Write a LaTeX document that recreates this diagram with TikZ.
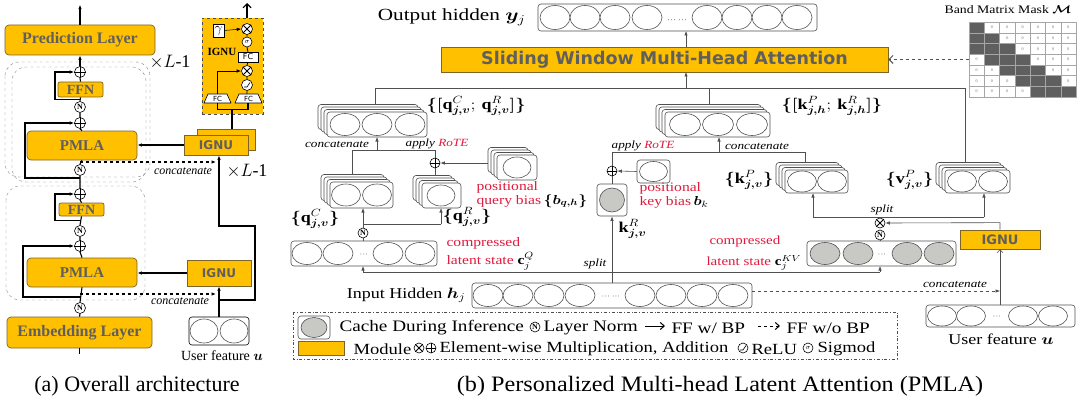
\RequirePackage{fix-cm}
\documentclass[tikz,border=0pt]{standalone}
\usepackage{amsmath,bm}
\usepackage{fontspec}
\setmainfont{Liberation Serif}
\newfontfamily\dvs{DejaVu Sans}
\usetikzlibrary{arrows.meta}
\definecolor{orng}{RGB}{255,192,0}
\definecolor{obord}{RGB}{125,100,40}
\definecolor{gtxt}{RGB}{95,95,95}
\definecolor{lnc}{RGB}{80,80,80}
\definecolor{redt}{RGB}{225,25,60}
\definecolor{cache}{RGB}{200,200,196}
\definecolor{mdark}{RGB}{95,95,95}
\newcommand\fs[1]{\fontsize{#1}{#1}\selectfont}
\newcommand\hs[2][1.2]{\scalebox{#1}[1]{#2}}
\newcommand\bx[7][]{\node[inner sep=0pt, minimum width={(#5)-(#3)}, minimum height={(#6)-(#4)}, #1] (#2) at ({((#3)+(#5))/2},{((#4)+(#6))/2}) {#7};}
\newcommand\ells[5]{\foreach \cx in {#5}{\draw[el, fill=#4] (\cx,#1) ellipse [x radius=#2, y radius=#3];}}
\newcommand\stk[4]{\foreach \k in {3,2,1}{\draw[cb] ({#1-3*\k},{#2-2.5*\k}) rectangle ({#3-3*\k},{#4-2.5*\k});}}
\newcommand\opl[4][10pt]{\node[sym=#1] (#2) at (#3,#4) {}; \draw[line width=0.9pt] (#2.north) -- (#2.south) (#2.west) -- (#2.east);}
\newcommand\otm[4][10pt]{\node[sym=#1] (#2) at (#3,#4) {}; \draw[line width=0.8pt] (#2.north east) -- (#2.south west) (#2.north west) -- (#2.south east);}
\newcommand\nrm[4][10pt]{\node[sym=#1, font=\bfseries\fs{8}] (#2) at (#3,#4) {N};}
\newcommand\sig[4][10pt]{\node[sym=#1, font=\fs{7}] (#2) at (#3,#4) {$\sigma$};}
\newcommand\relu[4][10pt]{\node[sym=#1] (#2) at (#3,#4) {}; \draw[line width=0.6pt] ([shift={(-3pt,-2pt)}]#2.center) -- ([shift={(0pt,-2pt)}]#2.center) -- ([shift={(3pt,2.5pt)}]#2.center);}
\newcommand\dts{$\cdot\!\cdot\!\cdot$}
\tikzset{
  lnL/.style={draw=black, line width=1.1pt},
  lnR/.style={draw=lnc, line width=0.6pt},
  arr/.style={-{Latex[length=4.5pt,width=3.5pt]}},
  ob/.style={draw=obord, fill=orng, line width=0.7pt},
  cb/.style={draw=lnc, fill=white, rounded corners=3pt, line width=0.6pt},
  el/.style={draw=lnc, line width=0.6pt},
  sym/.style={circle, draw=black, fill=white, inner sep=0pt, minimum size=#1, line width=0.6pt},
  sym/.default=10pt,
  lbox/.style={ob, rounded corners=4pt, font=\bfseries\fs{16}, text=gtxt},
  ig/.style={ob, font=\dvs\bfseries\fs{12}, text=gtxt},
  cat/.style={font=\itshape\fs{11}},
  red/.style={font=\fs{13}, text=redt, anchor=west},
  lg/.style={font=\fs{16}, anchor=west},
  lgb/.style={font=\fs{15.5}, anchor=west},
}
\begin{document}
\begin{tikzpicture}[x=1pt,y=-1pt]
\useasboundingbox (0,0) rectangle (1077,404);
% ================= (a) =================
\bx[lbox]{pred}{5}{25}{155}{55}{Prediction Layer}
\draw[dashed, draw=gray, rounded corners=14pt] (5,62) rectangle (150,177);
\draw[dashed, draw=gray, rounded corners=14pt] (12,67) rectangle (146,182);
\draw[dashed, draw=gray, rounded corners=14pt] (6,186) rectangle (145,300);
\opl[11pt]{p1}{80}{72}
\bx[ob, rounded corners=2pt, font=\bfseries\fs{14}, text=gtxt]{ffn1}{58}{82}{103}{97}{FFN}
\nrm[11pt]{n1}{80}{107}
\opl[11pt]{p2}{80}{123}
\bx[lbox, font=\bfseries\fs{15}]{pm1}{27}{131}{137}{160}{PMLA}
\nrm[11pt]{n2}{80}{170}
\opl[11pt]{p3}{80}{194}
\bx[ob, rounded corners=2pt, font=\bfseries\fs{14}, text=gtxt]{ffn2}{59}{203}{104}{216}{FFN}
\nrm[11pt]{n3}{80}{231}
\opl[11pt]{p4}{80}{246}
\bx[lbox, font=\bfseries\fs{15}]{pm2}{27}{258}{137}{287}{PMLA}
\nrm[11pt]{n4}{80}{308}
\bx[lbox]{emb}{7}{317}{152}{348}{Embedding Layer}
\draw[lnL] (emb.north) -- (n4.south) (n4.north) -- (pm2.south) (pm2.north) -- (p4.south)
  (p4.north) -- (n3.south) (n3.north) -- (ffn2.south) (ffn2.north) -- (p3.south)
  (p3.north) -- (n2.south) (n2.north) -- (pm1.south) (pm1.north) -- (p2.south)
  (p2.north) -- (n1.south) (n1.north) -- (ffn1.south) (ffn1.north) -- (p1.south);
\draw[lnL] (emb.south) -- ++(0,6);
\draw[lnL, arr] (p1.north) -- (pred.south);
\draw[lnL, arr] (pred.north) -- ++(0,-20);
\draw[lnL, arr] (80,297) -- (23,297) |- (p4.west);
\draw[lnL, arr] (80,220.5) -- (55,220.5) |- (p3.west);
\draw[lnL, arr] (80,178) -- (25,178) |- (p2.west);
\draw[lnL, arr] (80,99.5) -- (55,99.5) |- (p1.west);
\draw[lnL, dashed, arr] (80,162) -- (216,162);
\draw[lnL, dashed, arr] (80,294) -- (216,294);
\node[cat, font=\itshape\fs{12}] (cc1) at (183,171) {concatenate};
\node[cat, font=\itshape\fs{12}] (cc2) at (180,301) {concatenate};
\node[font=\fs{18}] (xl1) at (170,62) {$\times L$-1};
\node[font=\fs{18}] (xl2) at (247,171) {$\times L$-1};
\bx[ig]{ig1b}{197}{129}{255}{150}{}
\bx[ig]{ig1}{184}{135}{248}{155}{IGNU}
\bx[ig]{ig2}{187}{260}{251}{286}{IGNU}
\draw[lnL, arr] (ig1.west) -- (ig1.west -| pm1.east);
\draw[lnL, arr] (ig2.west) -- (ig2.west -| pm2.east);
\bx[draw=black, rounded corners=3pt, fill=white, line width=0.6pt]{uf}{189}{317}{249}{345}{}
\ells{331}{14}{12}{white}{204,234}
\node[font=\fs{14}] (ufl) at (222,356) {User feature $\bm{u}$};
\draw[lnL, arr] (uf.north) -- (ig2.south);
\coordinate (ua) at (219,300);
\draw[lnL, arr] (ua) -- ++(36,0) -- ++(0,-74) -- ++(-36,0) -- (ig1.south -| ua);
% IGNU inset
\bx[ob, dashed, draw=black!70]{igin}{202}{18}{263}{114}{}
\draw[lnL, -{Straight Barb[length=4pt,width=8pt]}] (247,18) -- (247,3);
\bx[draw=black, fill=white, font=\fs{14}]{gam}{213}{24}{224}{37}{$\gamma$}
\otm[11pt]{x1}{247}{29}
\sig{sg}{247}{42}
\bx[draw=black, fill=white, font=\dvs\fs{8}]{fc1}{238}{52}{258}{62}{FC}
\node[font=\bfseries\fs{11}] (ignl) at (222,52) {IGNU};
\otm[11pt]{x2}{247}{71}
\relu[11pt]{rl}{247}{85}
\draw[line width=0.6pt, fill=white] (204,103) -- (208,94) -- (227,94) -- (231,103) -- cycle;
\draw[line width=0.6pt, fill=white] (235,103) -- (239,94) -- (258,94) -- (262,103) -- cycle;
\node[font=\dvs\fs{7}] (fcl) at (217.5,99) {FC};
\node[font=\dvs\fs{7}] (fcr) at (248.5,99) {FC};
\coordinate (fclt) at (217.5,94); \coordinate (fclb) at (217.5,103);
\coordinate (fcrt) at (247,94); \coordinate (fcrb) at (248,103);
\draw[line width=0.8pt] (fcrt) -- (rl.south) (rl.north) -- (x2.south) (x2.north) -- (fc1.south) (fc1.north) -- (sg.south) (sg.north) -- (x1.south);
\draw[line width=0.8pt, arr] (fclt) |- (x2.west);
\draw[line width=0.5pt, arr] (gam.east) -- (x1.west);
\draw[lnL] (fclb) -- ++(0,6.5) -| (fcrb);
\coordinate (jn) at (232,109.5);
\draw[lnL] (jn) -- (jn |- ig1b.north);
% ================= (b) =================
\node[anchor=east, font=\fs{17}] (outl) at (529,17) {\hs[1.25]{Output hidden $\bm{y}_j$}};
\bx[cb]{outb}{538}{4}{817}{31}{}
\ells{17.5}{15}{12}{white}{555,585,615,647,707,737,767,797}
\node[font=\fs{9}] (od) at (677,20) {\dts\ \dts};
\bx[ob, font=\dvs\bfseries\fs{17.5}, text=gtxt]{swm}{441}{47}{888}{72}{Sliding Window Multi-Head Attention}
\draw[lnR, arr] (686,47) -- (686,31);
% band matrix
\node[font=\fs{11.5}] (bml) at (1008,10) {\hs{Band Matrix Mask $\bm{\mathcal{M}}$}};
\foreach \r in {0,...,6}{\foreach \c in {0,...,6}{
  \pgfmathtruncatemacro\dd{\r-\c}
  \def\fc{mdark}\def\tv{1}
  \ifnum\dd<0 \def\fc{white}\def\tv{0}\fi
  \ifnum\dd>2 \def\fc{white}\def\tv{0}\fi
  \node[draw=black!35, line width=0.3pt, fill=\fc, minimum width=15.3pt, minimum height=10.7pt, inner sep=0pt, font=\fs{4}, text=black!60] (m\r\c) at ({976.65+15.3*\c},{27.35+10.7*\r}) {\tv};
}}
\draw[lnR, line width=1pt, dashed, -{Straight Barb[length=4pt,width=8pt]}] (m30.west) -- (m30.west -| swm.east);
% bus
\draw[lnR] (375,88) -- (965,88);
\draw[lnR, arr] (686,88) -- (686,72);
% q stack
\stk{327}{112}{427}{137}
\bx[cb]{qst}{327}{112}{427}{137}{}
\ells{124.5}{15}{11}{white}{345,377,410}
\draw[lnR] (375,88) -- (375,104.5);
\node[anchor=west, font=\fs{15}] (qlbl) at (423,106) {\hs{$\bm{\{}\bm{[}\mathbf{q}^{C}_{\bm{j,v}};\,\mathbf{q}^{R}_{\bm{j,v}}\bm{]}\bm{\}}$}};
\draw[lnR] (352,150) -- (435,150);
\draw[lnR, arr] (377,150) -- (377,137);
\node[cat] (qcat) at (337,144) {\hs{concatenate}};
\node[cat] (qrot) at (437,144) {\hs{apply \textcolor{redt}{RoTE}}};
\opl{qp}{435}{163}
\draw[lnR] (qp.north) -- (435,150);
\stk{330}{182}{393}{208}
\bx[cb]{qcs}{330}{182}{393}{208}{}
\ells{195}{14.5}{11}{white}{346,377}
\draw[lnR] (352,150) -- (352,174.5);
\stk{422}{183}{461}{208}
\bx[cb]{qrs}{422}{183}{461}{208}{}
\ells{195.5}{14}{10.5}{white}{441}
\draw[lnR] (435,175.5) -- (qp.south);
\stk{497}{155}{537}{180}
\bx[cb]{qbs}{497}{155}{537}{180}{}
\ells{167.5}{14}{10.5}{white}{517}
\draw[lnR, arr] (488,163) -- (qp.east);
\node[red] (qb1) at (473,187) {\hs{positional}};
\node[red] (qb2) at (473,201) {\hs{query bias}};
\node[anchor=west, font=\fs{13}] (qb3) at (540,201) {\hs{$\bm{\{b_{q,h}\}}$}};
\nrm{nq}{363}{233}
\draw[lnR] (nq.north) -- (363,224) -- (441,224);
\draw[lnR, arr] (363,224) -- (363,208);
\draw[lnR, arr] (441,224) -- (441,208);
\node[font=\fs{15}] (qcl) at (315,219) {\hs{$\bm{\{}\mathbf{q}^{C}_{\bm{j,v}}\bm{\}}$}};
\node[font=\fs{15}] (qrl) at (467,217) {\hs{$\bm{\{}\mathbf{q}^{R}_{\bm{j,v}}\bm{\}}$}};
\bx[cb]{cq}{291}{241}{437}{266}{}
\ells{253.5}{15}{11}{white}{307,338,388,420}
\node[font=\fs{8}] (cqd) at (364,255) {\dts};
\draw[lnR] (nq.south) -- (nq.south |- cq.north);
\node[red] (cq1) at (443,243) {\hs{compressed}};
\node[red] (cq2) at (443,261) {\hs{latent state \textcolor{black}{$\mathbf{c}_j^{Q}$}}};
% split line
\draw[lnR] (363,272) -- (880,272);
\draw[lnR, arr] (363,272) -- (363,266);
\draw[lnR, arr] (880,272) -- (880,266);
\node[cat] (spl1) at (595,264) {\hs{split}};
% k^R
\bx[cb]{krb}{597}{184}{627}{216}{}
\draw[el, fill=cache] (612,200) ellipse [x radius=12.5, y radius=12];
\node[anchor=west, font=\fs{15}] (krl) at (615,229) {\hs{$\mathbf{k}^{R}_{\bm{j,v}}$}};
\opl{kp}{612}{171}
\draw[lnR] (krb.north) -- (kp.south);
\draw[lnR] (kp.north) -- (612,152);
\bx[cb]{kbb}{637}{160}{670}{183}{}
\ells{171.5}{14}{10}{white}{653.5}
\draw[lnR, arr] (kbb.west) -- (kp.east);
\node[red] (kb1) at (636,188) {\hs{positional}};
\node[red] (kb2) at (636,202) {\hs{key bias}};
\node[anchor=west, font=\fs{13}] (kb3) at (690,202) {\hs{$\bm{b}_k$}};
\draw[lnR] (612,152) -- (805,152);
\draw[lnR, arr] (719,152) -- (719,137);
\draw[lnR] (805,152) -- (805,162.5);
\node[cat] (krot) at (643,146) {\hs{apply \textcolor{redt}{RoTE}}};
\node[cat] (kcat) at (757,146) {\hs{concatenate}};
\stk{665}{112}{770}{137}
\bx[cb]{kst}{665}{112}{770}{137}{}
\ells{124.5}{15.5}{11}{white}{685,718,752}
\draw[lnR] (709,88) -- (709,104.5);
\node[anchor=west, font=\fs{15}] (klbl) at (778,106) {\hs{$\bm{\{}\bm{[}\mathbf{k}^{P}_{\bm{j,h}};\,\mathbf{k}^{R}_{\bm{j,h}}\bm{]}\bm{\}}$}};
\stk{785}{170}{848}{193}
\bx[cb]{kps}{785}{170}{848}{193}{}
\ells{181.5}{14.5}{10.5}{white}{802,832}
\node[anchor=east, font=\fs{15}] (kpl) at (777,180) {\hs{$\bm{\{}\mathbf{k}^{P}_{\bm{j,v}}\bm{\}}$}};
\stk{945}{170}{1010}{193}
\bx[cb]{vs}{945}{170}{1010}{193}{}
\ells{181.5}{14.5}{10.5}{white}{962,993}
\draw[lnR] (965,88) -- (965,162.5);
\node[anchor=east, font=\fs{15}] (vpl) at (937,180) {\hs{$\bm{\{}\mathbf{v}^{P}_{\bm{j,v}}\bm{\}}$}};
\draw[lnR] (813,217) -- (984,217);
\draw[lnR, arr] (813,217) -- (813,193);
\draw[lnR, arr] (984,217) -- (984,193);
\node[cat] (spl2) at (882,210) {\hs{split}};
\otm{xk}{880}{223}
\nrm{nk}{880}{235}
\draw[lnR] (xk.north) -- (880,217);
\bx[ig, font=\dvs\bfseries\fs{13}]{igr}{960}{230}{1040}{249}{IGNU}
\draw[lnR, arr] (igr.north) -- ++(0,-7) -- (xk.east);
\bx[cb]{ckv}{807}{241}{956}{266}{}
\ells{253.5}{15}{11}{cache}{825,858,907,939}
\node[font=\fs{8}] (ckd) at (882,255) {\dts};
\draw[lnR] (nk.south) -- (nk.south |- ckv.north);
\node[red, font=\fs{12.5}] (ck1) at (706,241) {\hs{compressed}};
\node[red, font=\fs{12.5}] (ck2) at (703,263) {\hs{latent state \textcolor{black}{$\mathbf{c}_j^{KV}$}}};
% input hidden
\bx[cb]{hin}{472}{283}{752}{308}{}
\ells{295.5}{15}{11}{white}{488,518,549,580,640,671,702,733}
\node[font=\fs{8}] (hd) at (611,297) {\dts\ \dts};
\draw[lnR, arr] (612,283) -- (krb.south);
\node[anchor=east, font=\fs{15}] (hinl) at (469,295) {\hs{Input Hidden $\bm{h}_j$}};
\draw[lnR, dashed, arr] (752,291) -- (1000,291);
\node[cat] (cc3) at (955,284) {\hs{concatenate}};
\bx[cb]{ufr}{926}{305}{1075}{327}{}
\ells{316}{14.5}{10}{white}{942,971,1023,1053}
\node[font=\fs{8}] (ufd) at (997,317) {\dts};
\draw[lnR, -{Straight Barb[length=3pt,width=6pt]}] (ufr.north -| igr) -- (igr.south);
\node[font=\fs{15}] (ufrl) at (1001,339) {\hs{User feature $\bm{u}$}};
% legend
\draw[lnR, dash dot] (293,312) rectangle (897,359);
\bx[cb]{lgc}{298}{316}{330}{339}{}
\draw[el, fill=cache] (314,327.5) ellipse [x radius=13, y radius=10];
\node[lg] (lg1) at (336,328) {\hs{Cache During Inference}};
\nrm{lgn}{535}{327}
\node[lg] (lg2) at (540,328) {\hs{Layer Norm}};
\coordinate (la1) at (645,326);
\draw[line width=1pt, -{Straight Barb[length=4pt,width=7pt]}] (la1) -- ++(20,0);
\node[lg] (lg3) at (668,328) {\hs{FF w/ BP}};
\coordinate (la2) at (758,326);
\draw[line width=1pt, dashed, -{Straight Barb[length=4pt,width=7pt]}] (la2) -- ++(22,0);
\node[lg] (lg4) at (783,328) {\hs{FF w/o BP}};
\bx[ob]{lgm}{298}{341}{344}{355}{}
\node[lgb] (lg5) at (350,349) {\hs{Module}};
\otm{lgx}{419}{348}
\opl{lgp}{431}{348}
\node[lgb] (lg6) at (436,349) {\hs{Element-wise Multiplication, Addition}};
\relu{lgr}{743}{348}
\node[lgb] (lg7) at (748,349) {\hs{ReLU}};
\sig{lgs}{808}{348}
\node[lgb] (lg8) at (814,349) {\hs{Sigmod}};
% captions
\node[font=\fs{22}] (capa) at (137,386) {(a) Overall architecture};
\node[font=\fs{22}] (capb) at (720,386) {\hs[1.1]{(b) Personalized Multi-head Latent Attention (PMLA)}};
\end{tikzpicture}
\end{document}
